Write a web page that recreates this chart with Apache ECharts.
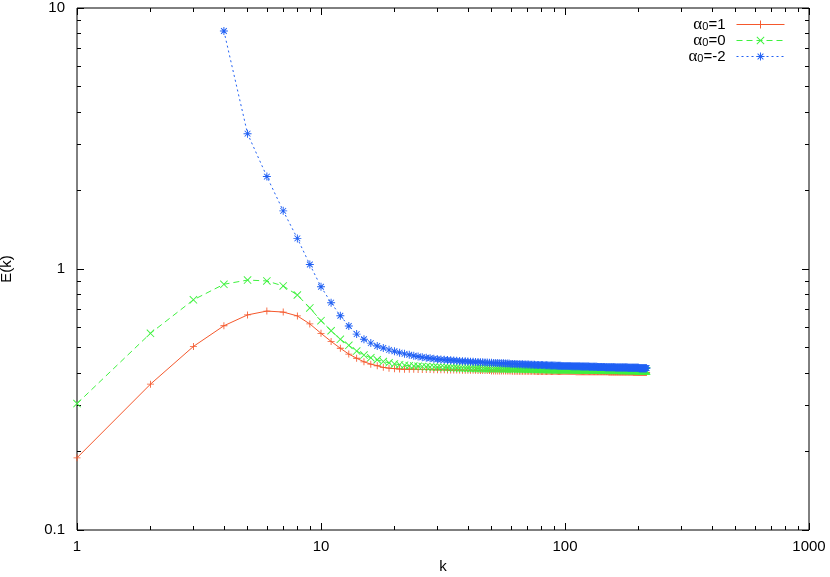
<!DOCTYPE html>
<html>
<head>
<meta charset="utf-8">
<script src="https://cdn.jsdelivr.net/npm/echarts@6/dist/echarts.min.js"></script>
<style>
  html, body { margin: 0; padding: 0; background: #fff; }
  #chart { width: 830px; height: 577px; }
</style>
</head>
<body>
<div id="chart"></div>
<script>
// E(k) for three values of alpha_0, k = 1 .. 216
const seriesNames = ['α0=1', 'α0=0', 'α0=-2'];

const alphaOne = [
  0.189, 0.362, 0.505, 0.606, 0.667, 0.690, 0.684, 0.661, 0.616, 0.567, // 1-10
  0.528, 0.497, 0.472, 0.455, 0.441, 0.432, 0.426, 0.420, 0.417, 0.415, // 11-20
  0.414, 0.413, 0.413, 0.413, 0.412, 0.412, 0.412, 0.412, 0.411, 0.411, // 21-30
  0.411, 0.411, 0.410, 0.410, 0.410, 0.410, 0.410, 0.409, 0.409, 0.409,
  0.409, 0.409, 0.409, 0.408, 0.408, 0.408, 0.408, 0.408, 0.408, 0.407,
  0.407, 0.407, 0.407, 0.407, 0.407, 0.407, 0.407, 0.407, 0.407, 0.407,
  0.406, 0.406, 0.406, 0.406, 0.406, 0.406, 0.406, 0.406, 0.406, 0.406,
  0.406, 0.406, 0.406, 0.406, 0.406, 0.405, 0.405, 0.405, 0.405, 0.405,
  0.405, 0.405, 0.405, 0.405, 0.405, 0.405, 0.405, 0.405, 0.405, 0.405,
  0.405, 0.405, 0.405, 0.405, 0.405, 0.405, 0.405, 0.405, 0.405, 0.405, // 91-100
  0.405, 0.405, 0.405, 0.405, 0.405, 0.405, 0.405, 0.405, 0.405, 0.405,
  0.404, 0.404, 0.404, 0.404, 0.404, 0.404, 0.404, 0.404, 0.404, 0.404,
  0.404, 0.404, 0.404, 0.404, 0.404, 0.404, 0.404, 0.404, 0.404, 0.404,
  0.404, 0.404, 0.404, 0.404, 0.404, 0.404, 0.404, 0.404, 0.404, 0.404,
  0.404, 0.404, 0.404, 0.404, 0.404, 0.404, 0.404, 0.404, 0.404, 0.404,
  0.403, 0.403, 0.403, 0.403, 0.403, 0.403, 0.403, 0.403, 0.403, 0.403,
  0.403, 0.403, 0.403, 0.403, 0.403, 0.403, 0.403, 0.403, 0.403, 0.403,
  0.403, 0.403, 0.403, 0.403, 0.403, 0.403, 0.403, 0.403, 0.403, 0.403,
  0.403, 0.403, 0.403, 0.403, 0.403, 0.403, 0.403, 0.403, 0.403, 0.403,
  0.402, 0.402, 0.402, 0.402, 0.402, 0.402, 0.402, 0.402, 0.402, 0.402, // 191-200
  0.402, 0.402, 0.402, 0.402, 0.402, 0.402, 0.402, 0.402, 0.402, 0.402,
  0.402, 0.402, 0.402, 0.402, 0.402, 0.402                              // 211-216
];

const alphaZero = [
  0.305, 0.567, 0.762, 0.874, 0.907, 0.900, 0.861, 0.795, 0.709, 0.634, // 1-10
  0.580, 0.538, 0.510, 0.485, 0.468, 0.457, 0.449, 0.442, 0.437, 0.433,
  0.430, 0.428, 0.426, 0.425, 0.424, 0.423, 0.422, 0.421, 0.421, 0.420,
  0.420, 0.419, 0.419, 0.418, 0.418, 0.418, 0.417, 0.417, 0.417, 0.417,
  0.416, 0.416, 0.416, 0.416, 0.416, 0.415, 0.415, 0.415, 0.415, 0.415,
  0.415, 0.415, 0.415, 0.415, 0.415, 0.414, 0.414, 0.414, 0.414, 0.414,
  0.414, 0.414, 0.414, 0.414, 0.414, 0.413, 0.413, 0.413, 0.413, 0.413,
  0.413, 0.413, 0.413, 0.413, 0.413, 0.412, 0.412, 0.412, 0.412, 0.412,
  0.412, 0.412, 0.412, 0.412, 0.412, 0.411, 0.411, 0.411, 0.411, 0.411,
  0.411, 0.411, 0.411, 0.411, 0.411, 0.411, 0.411, 0.411, 0.411, 0.411, // 91-100
  0.411, 0.411, 0.411, 0.411, 0.411, 0.411, 0.411, 0.411, 0.411, 0.411,
  0.410, 0.410, 0.410, 0.410, 0.410, 0.410, 0.410, 0.410, 0.410, 0.410,
  0.410, 0.410, 0.410, 0.410, 0.410, 0.410, 0.410, 0.410, 0.410, 0.410,
  0.410, 0.410, 0.410, 0.410, 0.410, 0.410, 0.410, 0.410, 0.410, 0.410,
  0.409, 0.409, 0.409, 0.409, 0.409, 0.409, 0.409, 0.409, 0.409, 0.409,
  0.409, 0.409, 0.409, 0.409, 0.409, 0.409, 0.409, 0.409, 0.409, 0.409,
  0.409, 0.409, 0.409, 0.409, 0.409, 0.409, 0.409, 0.409, 0.409, 0.409,
  0.408, 0.408, 0.408, 0.408, 0.408, 0.408, 0.408, 0.408, 0.408, 0.408,
  0.408, 0.408, 0.408, 0.408, 0.408, 0.408, 0.408, 0.408, 0.408, 0.408,
  0.408, 0.408, 0.408, 0.408, 0.408, 0.408, 0.408, 0.408, 0.408, 0.408, // 191-200
  0.407, 0.407, 0.407, 0.407, 0.407, 0.407, 0.407, 0.407, 0.407, 0.407,
  0.407, 0.407, 0.407, 0.407, 0.407, 0.407                              // 211-216
];

const alphaMinusTwo = [
  null, null, null, 8.16, 3.30, 2.26, 1.67, 1.31, 1.04, 0.855,          // 1-10
  0.743, 0.662, 0.605, 0.563, 0.538, 0.520, 0.507, 0.498, 0.490, 0.484,
  0.478, 0.473, 0.469, 0.465, 0.462, 0.459, 0.457, 0.455, 0.453, 0.451,
  0.450, 0.449, 0.448, 0.447, 0.446, 0.445, 0.444, 0.443, 0.443, 0.442,
  0.441, 0.441, 0.440, 0.440, 0.439, 0.439, 0.438, 0.438, 0.437, 0.437,
  0.436, 0.436, 0.436, 0.435, 0.435, 0.435, 0.434, 0.434, 0.434, 0.433,
  0.433, 0.433, 0.433, 0.432, 0.432, 0.432, 0.432, 0.431, 0.431, 0.431,
  0.431, 0.430, 0.430, 0.430, 0.430, 0.429, 0.429, 0.429, 0.429, 0.429,
  0.429, 0.428, 0.428, 0.428, 0.428, 0.427, 0.427, 0.427, 0.427, 0.427,
  0.427, 0.426, 0.426, 0.426, 0.426, 0.426, 0.425, 0.425, 0.425, 0.425, // 91-100
  0.425, 0.425, 0.425, 0.425, 0.425, 0.424, 0.424, 0.424, 0.424, 0.424,
  0.424, 0.424, 0.424, 0.424, 0.424, 0.423, 0.423, 0.423, 0.423, 0.423,
  0.423, 0.423, 0.423, 0.423, 0.423, 0.422, 0.422, 0.422, 0.422, 0.422,
  0.422, 0.422, 0.422, 0.422, 0.422, 0.421, 0.421, 0.421, 0.421, 0.421,
  0.421, 0.421, 0.421, 0.421, 0.421, 0.420, 0.420, 0.420, 0.420, 0.420,
  0.420, 0.420, 0.420, 0.420, 0.420, 0.420, 0.420, 0.420, 0.420, 0.420,
  0.419, 0.419, 0.419, 0.419, 0.419, 0.419, 0.419, 0.419, 0.419, 0.419,
  0.419, 0.419, 0.419, 0.419, 0.419, 0.419, 0.419, 0.419, 0.419, 0.419,
  0.418, 0.418, 0.418, 0.418, 0.418, 0.418, 0.418, 0.418, 0.418, 0.418,
  0.418, 0.418, 0.418, 0.418, 0.418, 0.418, 0.418, 0.418, 0.418, 0.418, // 191-200
  0.417, 0.417, 0.417, 0.417, 0.417, 0.417, 0.417, 0.417, 0.417, 0.417,
  0.417, 0.417, 0.417, 0.417, 0.417, 0.417                              // 211-216
];

// tick values
const xMajor = [1, 10, 100, 1000];
const xMinor = [2, 3, 4, 5, 6, 7, 8, 9, 20, 30, 40, 50, 60, 70, 80, 90, 200, 300, 400, 500, 600, 700, 800, 900];
const yMajor = [0.1, 1, 10];
const yMinor = [0.2, 0.3, 0.4, 0.5, 0.6, 0.7, 0.8, 0.9, 2, 3, 4, 5, 6, 7, 8, 9];

const colors = ['#f5582c', '#3ef23e', '#2060f4'];
const FONT = '"Liberation Sans", Arial, sans-serif';

// marker shapes as filled paths: plus, cross, asterisk
const PLUS = 'path://M0,4.4H10V5.6H0ZM4.4,0H5.6V10H4.4Z';
const CROSS = 'path://M0,0.8L0.8,0L10,9.2L9.2,10ZM9.2,0L10,0.8L0.8,10L0,9.2Z';
const STAR = 'path://M0,4.4H10V5.6H0ZM4.4,0H5.6V10H4.4ZM1,1.8L1.8,1L9,8.2L8.2,9ZM8.2,1L9,1.8L1.8,9L1,8.2Z';

function toPairs(values) {
  const out = [];
  values.forEach((v, i) => {
    if (v != null) out.push([i + 1, v]);
  });
  return out;
}

function logAxis(kind, position, ticks, len, withLabel) {
  const isX = kind === 'x';
  return {
    type: 'log',
    logBase: 10,
    min: isX ? 1 : 0.1,
    max: isX ? 1000 : 10,
    position: position,
    axisLine: { show: false, onZero: false },
    axisTick: { show: true, inside: true, length: len, customValues: ticks, lineStyle: { color: '#000', width: 1 } },
    axisLabel: withLabel
      ? {
          show: true, customValues: ticks, color: '#000', fontSize: 15, fontFamily: FONT,
          margin: isX ? 9 : 12, formatter: (v) => String(v),
        }
      : { show: false },
    splitLine: { show: false },
    minorTick: { show: false },
  };
}

const chart = echarts.init(document.getElementById('chart'), null, { renderer: 'canvas' });

const xAxes = [
  Object.assign(logAxis('x', 'bottom', xMajor, 7, true), {
    name: 'k', nameLocation: 'middle', nameGap: 29,
    nameTextStyle: { color: '#000', fontSize: 15, fontFamily: FONT },
  }),
  logAxis('x', 'bottom', xMinor, 4, false),
  logAxis('x', 'top', xMajor, 7, false),
  logAxis('x', 'top', xMinor, 4, false),
];
const yAxes = [
  Object.assign(logAxis('y', 'left', yMajor, 7, true), {
    name: 'E(k)', nameLocation: 'middle', nameGap: 63,
    nameTextStyle: { color: '#000', fontSize: 15, fontFamily: FONT },
  }),
  logAxis('y', 'left', yMinor, 4, false),
  logAxis('y', 'right', yMajor, 7, false),
  logAxis('y', 'right', yMinor, 4, false),
];

const markers = [PLUS, CROSS, STAR];
const markerSizes = [7, 8, 8];
const dashes = ['solid', [6, 4], [2, 3]];
const values = [alphaOne, alphaZero, alphaMinusTwo];

const series = seriesNames.map((name, i) => ({
  name: name,
  type: 'line',
  xAxisIndex: 0,
  yAxisIndex: 0,
  data: toPairs(values[i]),
  symbol: markers[i],
  symbolSize: markerSizes[i],
  symbolKeepAspect: true,
  showAllSymbol: true,
  lineStyle: { color: colors[i], width: 1, type: dashes[i] },
  itemStyle: { color: colors[i] },
  emphasis: { disabled: true },
  animation: false,
}));

chart.setOption({
  backgroundColor: '#fff',
  animation: false,
  grid: {
    left: 77, right: 21, top: 8, bottom: 47,
    outerBoundsMode: 'none', containLabel: false,
    show: true, borderColor: '#000', borderWidth: 1, backgroundColor: 'transparent',
  },
  legend: {
    orient: 'vertical',
    right: 40,
    top: 11,
    align: 'right',
    itemWidth: 48,
    itemHeight: 10,
    itemGap: -1,
    selectedMode: false,
    data: seriesNames,
    lineStyle: { width: 1 },
    formatter: (n) => '{g|α}{s|0}{t|' + n.slice(2) + '}',
    textStyle: {
      color: '#000',
      rich: {
        g: { fontFamily: '"Liberation Serif", serif', fontSize: 17, lineHeight: 16, color: '#000' },
        s: { fontFamily: FONT, fontSize: 11, lineHeight: 12, color: '#000', padding: [5, 0, 0, 0] },
        t: { fontFamily: FONT, fontSize: 15, lineHeight: 16, color: '#000', padding: [0, 6, 0, 0] },
      },
    },
  },
  xAxis: xAxes,
  yAxis: yAxes,
  series: series,
});
</script>
</body>
</html>
